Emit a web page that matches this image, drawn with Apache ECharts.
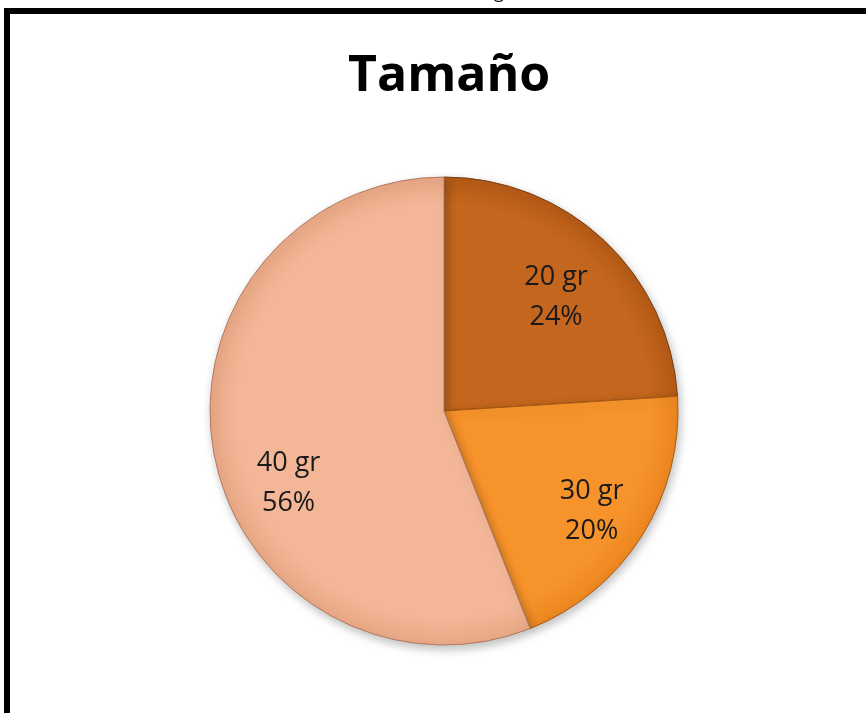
<!DOCTYPE html>
<html>
<head>
<meta charset="utf-8">
<title>Tamaño</title>
<script src="https://cdn.jsdelivr.net/npm/echarts@6/dist/echarts.min.js"></script>
<style>
  html, body { margin: 0; padding: 0; background: #fff; }
  #frame {
    position: absolute;
    left: 4px;
    top: 8px;
    width: 900px;
    height: 800px;
    border: 6px solid #000;
  }
  #chart { position: absolute; left: 0; top: 0; width: 866px; height: 713px; }
</style>
</head>
<body>
<div id="frame"></div>
<div id="chart"></div>
<script>
var sizes = ['20 gr', '30 gr', '40 gr'];
var shares = [24, 20, 56];
var colors = ['#C4661D', '#F7932B', '#F3B697'];
var rimColors = ['#B45A16', '#EC8620', '#E9A886'];
var edgeColors = ['#7A3E10', '#A85A12', '#B07A60'];
// the original is a slightly tilted 3d pie, so its labels sit a bit off the middle
var labelShift = [[-6, 12], [2, 8], [14, 40]];

var cx = 444, cy = 411, r = 234;

function shade(i) {
  // flat face that darkens a little at the rim, like the bevelled office pie
  return {
    type: 'radial', x: cx, y: cy, r: r, global: true,
    colorStops: [
      { offset: 0, color: colors[i] },
      { offset: 0.88, color: colors[i] },
      { offset: 1, color: rimColors[i] }
    ]
  };
}

var pieData = sizes.map(function (name, i) {
  return {
    name: name,
    value: shares[i],
    itemStyle: { color: shade(i), borderColor: edgeColors[i] }
  };
});

var labelData = sizes.map(function (name, i) {
  return { name: name, value: shares[i], label: { offset: labelShift[i] } };
});

var chart = echarts.init(document.getElementById('chart'));
chart.setOption({
  animation: false,
  title: {
    text: 'Tamaño',
    left: 343,
    top: 47,
    textStyle: {
      fontFamily: 'Open Sans',
      fontWeight: 'bold',
      fontSize: 50,
      color: '#000'
    }
  },
  graphic: [{
    type: 'text',
    left: 494,
    top: -16,
    style: { text: 'g', font: '18px "Open Sans"', fill: '#000' }
  }],
  series: [
    {
      type: 'pie',
      center: [cx, cy],
      radius: [0, r],
      startAngle: 90,
      clockwise: true,
      silent: true,
      label: { show: false },
      labelLine: { show: false },
      itemStyle: {
        borderWidth: 1,
        shadowBlur: 10,
        shadowColor: 'rgba(0,0,0,0.25)',
        shadowOffsetX: 2,
        shadowOffsetY: 4
      },
      data: pieData
    },
    {
      // transparent ring only used to place the labels at ~70% of the radius
      type: 'pie',
      center: [cx, cy],
      radius: [105, r],
      startAngle: 90,
      clockwise: true,
      silent: true,
      itemStyle: { color: 'rgba(0,0,0,0)' },
      labelLine: { show: false },
      label: {
        show: true,
        position: 'inside',
        formatter: '{b}\n{d}%',
        fontFamily: 'Open Sans',
        fontSize: 27,
        lineHeight: 40,
        color: '#1a1a1a'
      },
      data: labelData
    }
  ]
});
</script>
</body>
</html>
